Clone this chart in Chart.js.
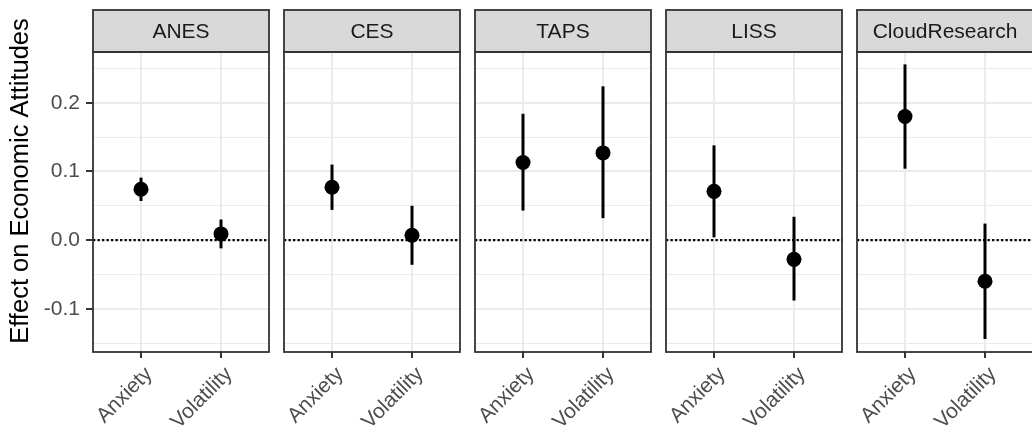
<!DOCTYPE html>
<html>
<head>
<meta charset="utf-8">
<script src="https://cdn.jsdelivr.net/npm/chart.js@4"></script>
<style>
html, body { margin: 0; padding: 0; background: #fff; overflow: hidden; }
#wrap { position: relative; width: 1032px; height: 431px; overflow: hidden; }
canvas { position: absolute; top: 0; }
</style>
</head>
<body>
<div id="wrap"></div>
<script>
// data
const surveys = ['ANES', 'CES', 'TAPS', 'LISS', 'CloudResearch'];
const predictors = ['Anxiety', 'Volatility'];
const anxietyEst = [0.074, 0.077, 0.113, 0.071, 0.180];
const anxietyLow = [0.057, 0.044, 0.043, 0.004, 0.104];
const anxietyHigh = [0.091, 0.110, 0.184, 0.138, 0.256];
const volatilityEst = [0.009, 0.007, 0.127, -0.028, -0.060];
const volatilityLow = [-0.012, -0.036, 0.032, -0.088, -0.144];
const volatilityHigh = [0.030, 0.050, 0.224, 0.034, 0.024];
const yTicks = [-0.15, -0.1, -0.05, 0, 0.05, 0.1, 0.15, 0.2, 0.25];
const yTitle = 'Effect on Economic Attitudes';

const FONT = '"Liberation Sans", Arial, sans-serif';
const PANEL_LEFT = 93, PANEL_W = 176, PANEL_STEP = 191;
const PANEL_TOP = 52, PANEL_BOTTOM = 352, STRIP_TOP = 10, H = 431;
const SIDE = 60, RIGHT = 20;

const isMajor = v => Math.abs(Math.round(v * 20)) % 2 === 0;

// strip + panel border, drawn like a ggplot facet
const facetPlugin = {
    id: 'facet',
    afterDraw(chart, args, opts) {
        const { ctx, chartArea: a } = chart;
        ctx.save();
        ctx.fillStyle = '#d9d9d9';
        ctx.fillRect(a.left, STRIP_TOP, a.right - a.left, a.top - STRIP_TOP);
        ctx.strokeStyle = '#333';
        ctx.lineWidth = 1.8;
        ctx.strokeRect(a.left, STRIP_TOP, a.right - a.left, a.top - STRIP_TOP);
        ctx.strokeRect(a.left, a.top, a.right - a.left, a.bottom - a.top);
        ctx.fillStyle = '#1a1a1a';
        ctx.font = `21px ${FONT}`;
        ctx.textAlign = 'center';
        ctx.textBaseline = 'middle';
        ctx.fillText(opts.label, (a.left + a.right) / 2, (STRIP_TOP + a.top) / 2 + 1);
        // y title is centred on strip + panel, as ggplot does
        if (opts.yTitle) {
            ctx.translate(21, (STRIP_TOP + a.bottom) / 2);
            ctx.rotate(-Math.PI / 2);
            ctx.fillStyle = '#000';
            ctx.font = `25.5px ${FONT}`;
            ctx.fillText(opts.yTitle, 0, 0);
        }
        ctx.restore();
    }
};

const wrap = document.getElementById('wrap');

function makeChart(i) {
    const first = i === 0;
    const plotLeft = PANEL_LEFT + PANEL_STEP * i;
    const left = first ? 0 : plotLeft - SIDE;
    const width = (first ? PANEL_LEFT : SIDE) + PANEL_W + RIGHT;

    const canvas = document.createElement('canvas');
    canvas.width = width;
    canvas.height = H;
    canvas.style.left = left + 'px';
    canvas.style.width = width + 'px';
    canvas.style.height = H + 'px';
    wrap.appendChild(canvas);

    const est = [anxietyEst[i], volatilityEst[i]];
    const low = [anxietyLow[i], volatilityLow[i]];
    const high = [anxietyHigh[i], volatilityHigh[i]];

    const datasets = [{
        data: est.map((v, j) => ({ x: j + 1, y: v })),
        pointRadius: 7.5,
        pointBackgroundColor: '#000',
        pointBorderWidth: 0,
        order: 0
    }];
    predictors.forEach((p, j) => {
        datasets.push({
            data: [{ x: j + 1, y: low[j] }, { x: j + 1, y: high[j] }],
            showLine: true,
            borderColor: '#000',
            borderWidth: 3,
            pointRadius: 0,
            order: 1
        });
    });
    datasets.push({
        data: [{ x: 0.4, y: 0 }, { x: 2.6, y: 0 }],
        showLine: true,
        borderColor: '#000',
        borderWidth: 2.3,
        borderDash: [2.3, 2.2],
        pointRadius: 0,
        order: 2
    });

    new Chart(canvas, {
        type: 'scatter',
        data: { datasets },
        plugins: [facetPlugin],
        options: {
            responsive: false,
            animation: false,
            layout: { padding: { left: first ? 0 : SIDE, right: RIGHT, top: PANEL_TOP, bottom: 0 } },
            plugins: {
                legend: { display: false },
                tooltip: { enabled: false },
                facet: { label: surveys[i], yTitle: first ? yTitle : null }
            },
            scales: {
                x: {
                    type: 'linear',
                    min: 0.4,
                    max: 2.6,
                    afterBuildTicks: s => { s.ticks = predictors.map((p, j) => ({ value: j + 1 })); },
                    afterFit: s => { s.height = H - PANEL_BOTTOM; },
                    border: { display: false },
                    grid: { color: '#ebebeb', lineWidth: 2, tickColor: '#333', tickLength: 6 },
                    ticks: {
                        autoSkip: false,
                        minRotation: 45,
                        maxRotation: 45,
                        padding: 4,
                        labelOffset: 8,
                        color: '#4d4d4d',
                        font: { family: FONT, size: 21 },
                        callback: v => predictors[v - 1]
                    }
                },
                y: {
                    min: -0.163,
                    max: 0.274,
                    afterBuildTicks: s => { s.ticks = yTicks.map(v => ({ value: v })); },
                    afterFit: s => { s.width = first ? PANEL_LEFT : 0; },
                    border: { display: false },
                    grid: {
                        color: '#ebebeb',
                        lineWidth: c => (c.tick && isMajor(c.tick.value) ? 2 : 1.1),
                        drawTicks: first,
                        tickLength: 7,
                        tickColor: c => (c.tick && isMajor(c.tick.value) ? '#333' : 'rgba(0,0,0,0)')
                    },
                    ticks: {
                        display: first,
                        padding: 6,
                        color: '#4d4d4d',
                        font: { family: FONT, size: 21 },
                        callback: v => (isMajor(v) ? v.toFixed(1) : '')
                    },
                    title: { display: false }
                }
            }
        }
    });
}

surveys.forEach((s, i) => makeChart(i));
</script>
</body>
</html>
